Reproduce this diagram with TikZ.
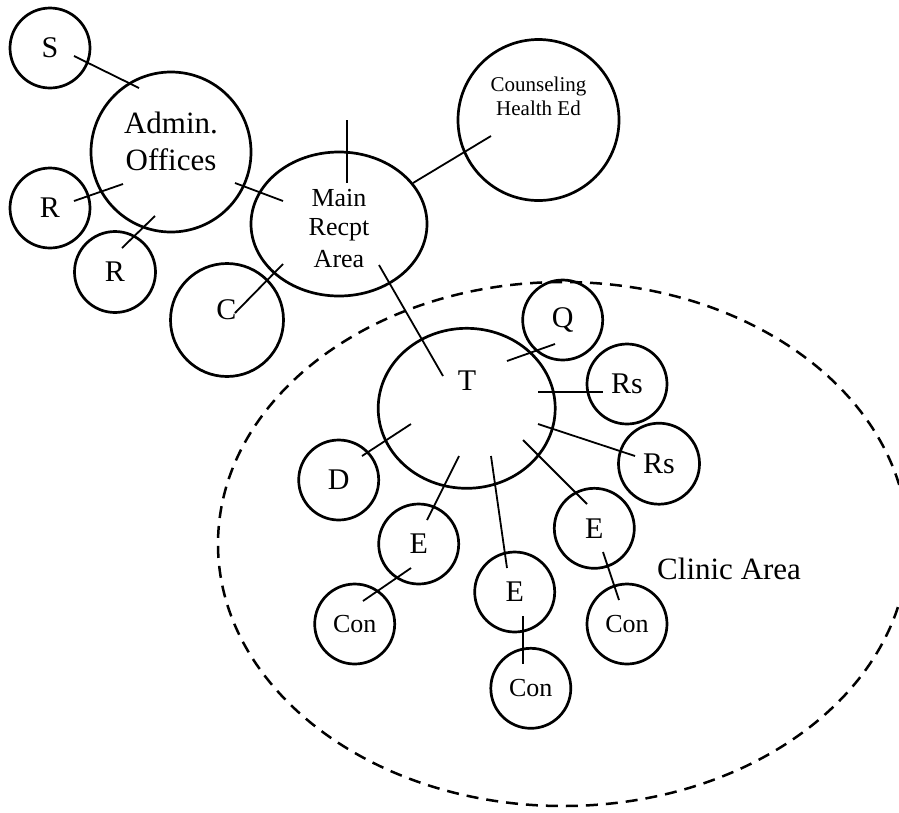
\documentclass[tikz,border=0pt]{standalone}
\usepackage{fontspec}
\setmainfont{Liberation Serif}
\usetikzlibrary{shapes.geometric,calc}
\begin{document}
\begin{tikzpicture}[x=1pt,y=-1pt,
  room/.style={draw,circle,line width=2.7pt,inner sep=0pt,font=\fontsize{30}{36}\selectfont},
  smallroom/.style={room,minimum size=80pt},
  conroom/.style={smallroom,font=\fontsize{26}{31}\selectfont},
  oval/.style={draw,ellipse,line width=2.7pt,inner sep=0pt},
  connector/.style={line width=1.8pt},
  lbl/.style={inner sep=0pt,anchor=base}]
\useasboundingbox (0,0) rectangle (899,812);
\clip (0,0) rectangle (899,812);

% clinic area
\node[draw,ellipse,dashed,dash pattern=on 12pt off 8pt,line width=2.5pt,inner sep=0pt,
      minimum width=690pt,minimum height=524pt] (clinic) at (563,544) {};
\node[lbl,anchor=base west,font=\fontsize{31}{37}\selectfont] (clinictxt) at (657,579) {Clinic Area};

% upper rooms
\node[smallroom] (S) at (50,48) {S};
\node[room,minimum size=160pt] (adm) at (171,152) {};
\node[lbl,font=\fontsize{31}{37}\selectfont] (adm1) at (171,133) {Admin.};
\node[lbl,font=\fontsize{31}{37}\selectfont] (adm2) at (171,170) {Offices};
\node[smallroom] (Rl) at (50,208) {R};
\node[smallroom,minimum size=81pt] (Rb) at (115,272) {R};
\node[oval,minimum width=176pt,minimum height=144pt] (main) at (339,224) {};
\node[lbl,font=\fontsize{26}{31}\selectfont] (main1) at (339,206) {Main};
\node[lbl,font=\fontsize{26}{31}\selectfont] (main2) at (339,235) {Recpt};
\node[lbl,font=\fontsize{26}{31}\selectfont] (main3) at (339,267) {Area};
\node[room,minimum size=161pt] (cou) at (538.5,120) {};
\node[lbl,font=\fontsize{21}{25}\selectfont] (cou1) at (538.5,91) {Counseling};
\node[lbl,font=\fontsize{21}{25}\selectfont] (cou2) at (538.5,115) {Health Ed};
\node[room,minimum size=113pt] (C) at (227,320) {};
\node[lbl,font=\fontsize{30}{36}\selectfont] (Ctxt) at (226.5,319) {C};

% clinic rooms
\node[oval,minimum width=177pt,minimum height=160pt] (T) at (466.7,408.3) {};
\node[lbl,font=\fontsize{30}{36}\selectfont] (Ttxt) at (467,390) {T};
\node[smallroom] (Q) at (562.7,320) {Q};
\node[smallroom] (Rs1) at (627,384) {Rs};
\node[smallroom,minimum size=81pt] (Rs2) at (659,463.7) {Rs};
\node[smallroom] (D) at (338.7,480) {D};
\node[smallroom] (El) at (418.7,544) {E};
\node[smallroom] (Em) at (514.7,592) {E};
\node[smallroom] (Er) at (594.3,528.3) {E};
\node[conroom] (Conl) at (354.7,624) {Con};
\node[conroom] (Conm) at (530.8,688.3) {Con};
\node[conroom] (Conr) at (627,624) {Con};

% connectors
\draw[connector] ($(S)+(24,8)$) -- ($(adm)+(-32,-64)$);
\draw[connector] ($(Rl)+(24,-7)$) -- ($(adm)+(-48,32)$);
\draw[connector] ($(Rb)+(7,-24)$) -- ($(adm)+(-16,64)$);
\draw[connector] ($(adm)+(64,31)$) -- ($(main)+(-56,-23)$);
\draw[connector] ($(main)+(8,-104)$) -- ($(main)+(8,-41)$);
\draw[connector] ($(main)+(74,-41)$) -- ($(cou)+(-47.5,16)$);
\draw[connector] ($(C)+(8,-7)$) -- ($(main)+(-56,40)$);
\draw[connector] ($(main)+(40,41)$) -- ($(T)+(-23.7,-32.3)$);
\draw[connector] ($(T)+(40.3,-47.3)$) -- ($(Q)+(-7.7,24)$);
\draw[connector] ($(T)+(71.3,-16.3)$) -- ($(Rs1)+(-24,8)$);
\draw[connector] ($(T)+(71.3,15.7)$) -- ($(Rs2)+(-24,-7.7)$);
\draw[connector] ($(T)+(-55.7,15.7)$) -- ($(D)+(23.3,-24)$);
\draw[connector] ($(T)+(-7.7,47.7)$) -- ($(El)+(8.3,-24)$);
\draw[connector] ($(T)+(24.3,47.7)$) -- ($(Em)+(-7.7,-24)$);
\draw[connector] ($(T)+(56.3,31.7)$) -- ($(Er)+(-7.3,-24.3)$);
\draw[connector] ($(El)+(-7.7,24)$) -- ($(Conl)+(8.3,-23)$);
\draw[connector] ($(Em)+(8.3,24)$) -- ($(Conm)+(-7.8,-24.3)$);
\draw[connector] ($(Er)+(8.7,23.7)$) -- ($(Conr)+(-8,-24)$);
\end{tikzpicture}
\end{document}
